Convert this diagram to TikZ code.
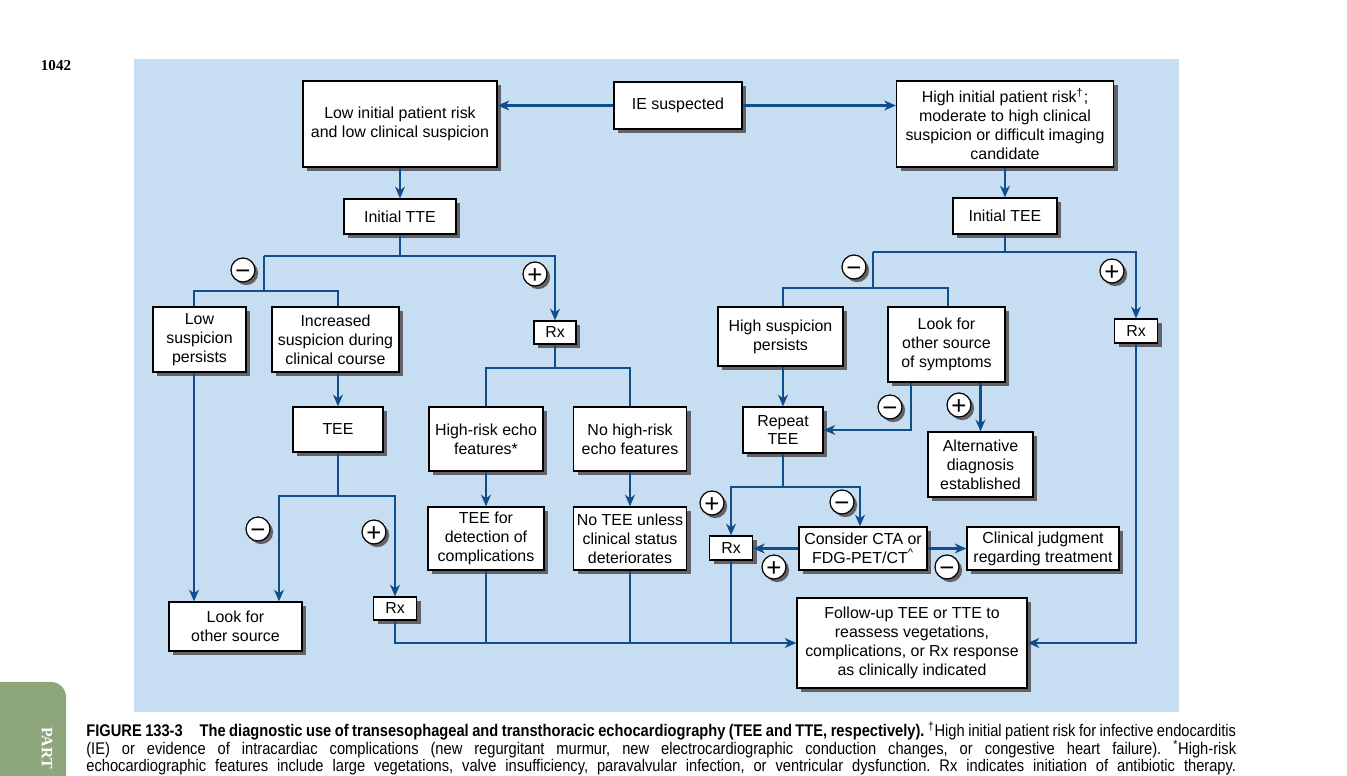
\documentclass[tikz,border=0pt]{standalone}
\usepackage{fontspec}
\setmainfont{Liberation Sans}
\newfontfamily\capfont[FakeStretch=0.87]{Liberation Sans}
\newfontfamily\serfont{Liberation Serif}
\usetikzlibrary{arrows.meta,shadows}
\frenchspacing

\definecolor{bgblue}{RGB}{199,222,242}
\definecolor{lineblue}{RGB}{16,78,139}
\definecolor{shadowgrey}{RGB}{98,98,104}
\definecolor{tabgreen}{RGB}{142,166,124}

\tikzset{
boxsize/.style 2 args={
  minimum width=#1*0.02cm,
  minimum height=#2*0.02cm
  },
flowbox/.style={
  draw=black, line width=0.7pt, fill=white,
  align=center, inner sep=1pt,
  font=\fontsize{9.07pt}{10.77pt}\selectfont,
  drop shadow={shadow xshift=2.4pt, shadow yshift=-2.4pt, fill=shadowgrey, opacity=1}
  },
sgn/.style={
  circle, draw=black, line width=0.7pt, fill=white,
  inner sep=0pt, minimum size=0.48cm,
  text height=10.4pt, text depth=0pt,
  font=\fontsize{14.7pt}{14.7pt}\selectfont,
  drop shadow={shadow xshift=1.8pt, shadow yshift=-1.8pt, fill=shadowgrey, opacity=1}
  },
conn/.style={draw=lineblue, line width=1.3pt},
arr/.style={conn, -{Stealth[length=6.6pt, width=5.6pt, inset=2pt]}},
capline/.style={
  anchor=base west, inner sep=0pt,
  font=\capfont\fontsize{9.6pt}{10pt}\selectfont
  }
}

\begin{document}
\begin{tikzpicture}[x=0.02cm, y=-0.02cm]
\useasboundingbox (0,0) rectangle (1347,776);

% page furniture
\fill[bgblue] (134,59) rectangle (1179,712);
\fill[tabgreen, rounded corners=8.5pt] (-20,682) rectangle (66,800);
\node[font=\serfont\bfseries\fontsize{8.6pt}{9pt}\selectfont, inner sep=0pt]
  (pageno) at (56,66) {1042};
\node[rotate=-90, anchor=west, text=white, inner sep=0pt,
  font=\serfont\bfseries\fontsize{9pt}{9pt}\selectfont]
  (tab) at (47,727) {PART};

% top row
\node[flowbox, boxsize={194}{86}] (low) at (400,124)
  {Low initial patient risk\\and low clinical suspicion};
\node[flowbox, boxsize={128}{47}] (ie) at (678,105.5) {IE suspected};
\node[flowbox, boxsize={217}{86}] (high) at (1005,124)
  {High initial patient risk\textsuperscript{†};\\moderate to high clinical\\suspicion or difficult imaging\\candidate};

\node[flowbox, boxsize={112}{35}] (itte) at (400,216.5) {Initial TTE};
\node[flowbox, boxsize={104}{36}] (itee) at (1005,216) {Initial TEE};

% TTE side
\node[flowbox, boxsize={93}{65}] (lowsusp) at (199.5,339.5) {Low\\suspicion\\persists};
\node[flowbox, boxsize={127}{65}] (incsusp) at (335.5,339.5)
  {Increased\\suspicion during\\clinical course};
\node[flowbox, boxsize={90}{45}] (tee) at (338,429.5) {TEE};
\node[flowbox, boxsize={133}{49}] (lookother) at (235.5,626.5) {Look for\\other source};
\node[flowbox, boxsize={43}{23}] (rxa) at (395,608.5) {Rx};
\node[flowbox, boxsize={42}{23}] (rxb) at (555,332.5) {Rx};
\node[flowbox, boxsize={114}{64}] (hirisk) at (486,439) {High-risk echo\\features*};
\node[flowbox, boxsize={116}{63}] (teedet) at (486,538.5)
  {TEE for\\detection of\\complications};
\node[flowbox, boxsize={113}{64}] (nohirisk) at (630,439) {No high-risk\\echo features};
\node[flowbox, boxsize={113}{63}] (notee) at (630,538.5)
  {No TEE unless\\clinical status\\deteriorates};
\node[flowbox, boxsize={230}{90}] (followup) at (912,643)
  {Follow-up TEE or TTE to\\reassess vegetations,\\complications, or Rx response\\as clinically indicated};

% TEE side
\node[flowbox, boxsize={125}{59}] (hisusp) at (780.5,336.5) {High suspicion\\persists};
\node[flowbox, boxsize={117}{75}] (lookfor) at (946.5,344.5)
  {Look for\\other source\\of symptoms};
\node[flowbox, boxsize={43}{24}] (rxd) at (1136,331) {Rx};
\node[flowbox, boxsize={80}{46}] (repeat) at (783,430) {Repeat\\TEE};
\node[flowbox, boxsize={105}{65}] (altdiag) at (980.5,464.5)
  {Alternative\\diagnosis\\established};
\node[flowbox, boxsize={43}{24}] (rxc) at (731,548) {Rx};
\node[flowbox, boxsize={128}{43}] (consider) at (863,548.5)
  {Consider CTA or\\FDG-PET/CT\textsuperscript{\textasciicircum}};
\node[flowbox, boxsize={152}{43}] (clinical) at (1043,548.5)
  {Clinical judgment\\regarding treatment};

% junctions
\coordinate (tteL) at (264,256);
\coordinate (tteR) at (555,256);
\coordinate (lsL) at (194,291);
\coordinate (lsR) at (338,291);
\coordinate (tnL) at (279,496);
\coordinate (tnR) at (395,496);
\coordinate (rxR) at (630,368);
\coordinate (eeL) at (873,252);
\coordinate (eeR) at (1136,252);
\coordinate (hsL) at (783,288);
\coordinate (hsR) at (948,288);
\coordinate (lfm) at (911,400);
\coordinate (rpL) at (731,487);
\coordinate (rpR) at (860,487);

% connectors
\draw[arr] (ie.west) -- (ie.west -| low.east);
\draw[arr] (ie.east) -- (ie.east -| high.west);
\draw[arr] (low) -- (itte);
\draw[arr] (high) -- (itee);

\draw[conn] (itte.south) -- (itte.south |- tteL);
\draw[arr] (tteL) -- (tteR) -- (rxb.north);
\draw[conn] (tteL) -- (tteL |- lsL);
\draw[conn] (lsL |- lowsusp.north) -- (lsL) -- (lsR) -- (lsR |- incsusp.north);
\draw[arr] (lsR |- incsusp.south) -- (lsR |- tee.north);
\draw[arr] (lsL |- lowsusp.south) -- (lsL |- lookother.north);
\draw[arr] (tee.south) |- (tnR) -- (rxa.north);
\draw[arr] (tee.south |- tnL) -- (tnL) -- (tnL |- lookother.north);

\draw[conn] (rxb.south) -- (rxb.south |- rxR);
\draw[conn] (hirisk.north) |- (rxR) -- (nohirisk.north);
\draw[arr] (hirisk) -- (teedet);
\draw[arr] (nohirisk) -- (notee);

\draw[arr] (rxa.south) |- (followup.west);
\draw[conn] (teedet.south) -- (teedet.south |- followup.west);
\draw[conn] (notee.south) -- (notee.south |- followup.west);
\draw[conn] (rxc.south) -- (rxc.south |- followup.west);

\draw[conn] (itee.south) -- (itee.south |- eeL);
\draw[arr] (eeL) -- (eeR) -- (rxd.north);
\draw[conn] (eeL) -- (eeL |- hsL);
\draw[conn] (hisusp.north -| hsL) -- (hsL) -- (hsR) -- (hsR |- lookfor.north);
\draw[arr] (hisusp.south -| hsL) -- (repeat.north);
\draw[arr] (lookfor.south -| lfm) |- (repeat.east);
\draw[arr] (lookfor.south -| altdiag.north) -- (altdiag.north);
\draw[conn] (repeat.south) -- (repeat.south |- rpL);
\draw[arr] (repeat.south |- rpL) -- (rpL) -- (rxc.north);
\draw[arr] (repeat.south |- rpR) -- (rpR) -- (rpR |- consider.north);
\draw[arr] (consider.west) -- (consider.west -| rxc.east);
\draw[arr] (consider.east) -- (clinical.west);
\draw[arr] (rxd.south) |- (followup.east);

% signs
\node[sgn] (m1) at (243,270) {−};
\node[sgn] (p1) at (535,274) {+};
\node[sgn] (m2) at (258,529) {−};
\node[sgn] (p2) at (374,532) {+};
\node[sgn] (m3) at (854,267) {−};
\node[sgn] (p3) at (1112,271) {+};
\node[sgn] (m4) at (890,407) {−};
\node[sgn] (p4) at (959,405) {+};
\node[sgn] (p5) at (712,503) {+};
\node[sgn] (m5) at (842,502) {−};
\node[sgn] (p6) at (774,567) {+};
\node[sgn] (m6) at (947,567) {−};

% caption
\node[capline] (cap1) at (86,737) {\makebox[23cm][s]{\bfseries FIGURE 133-3\quad The diagnostic use of transesophageal and transthoracic echocardiography (TEE and TTE, respectively).\mdseries{} \textsuperscript{†}High initial patient risk for infective endocarditis}};
\node[capline] (cap2) at (86,754.5) {\makebox[23cm][s]{(IE) or evidence of intracardiac complications (new regurgitant murmur, new electrocardiographic conduction changes, or congestive heart failure). \textsuperscript{*}High-risk}};
\node[capline] (cap3) at (86,772) {\makebox[23cm][s]{echocardiographic features include large vegetations, valve insufficiency, paravalvular infection, or ventricular dysfunction. Rx indicates initiation of antibiotic therapy.}};
\end{tikzpicture}
\end{document}
